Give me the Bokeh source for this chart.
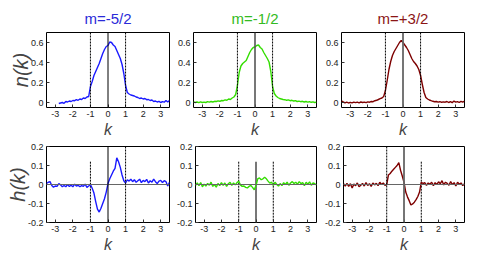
import numpy as np
from bokeh.plotting import figure
from bokeh.layouts import column, row
from bokeh.models import Span, FixedTicker, Range1d
from bokeh.embed import file_html
from bokeh.resources import INLINE

# ---------------- data ----------------
titles = ["m=-5/2", "m=-1/2", "m=+3/2"]
title_colors = ["#2a2ad8", "#33bb22", "#8b1515"]
line_colors = ["#1a1aff", "#33dd00", "#7d0000"]

k_full = np.round(np.arange(-35, 36) / 10, 1)    # -3.5 ... 3.5
k_blue_n = np.round(np.arange(-28, 36) / 10, 1)  # -2.8 ... 3.5

n_blue = [
    -0.01, -0.005, 0.0, -0.008, 0.01, 0.005, 0.015, 0.01, 0.02, 0.018,
    0.028, 0.022, 0.035, 0.03, 0.045, 0.04, 0.055, 0.06, 0.16, 0.21,
    0.27, 0.31, 0.35, 0.39, 0.44, 0.49, 0.53, 0.56, 0.57, 0.605,
    0.6, 0.575, 0.56, 0.52, 0.48, 0.44, 0.38, 0.29, 0.17, 0.1,
    0.085, 0.075, 0.07, 0.065, 0.055, 0.05, 0.04, 0.045, 0.035, 0.04,
    0.028, 0.03, 0.02, 0.025, 0.01, 0.015, 0.005, 0.012, 0.0, 0.008,
    0.003, 0.02, 0.005, 0.02,
]
n_green = [
    0.007, 0.0, 0.005, -0.002, 0.006, 0.0, 0.004, 0.0, 0.008, 0.003,
    0.01, 0.005, 0.012, 0.01, 0.016, 0.012, 0.02, 0.018, 0.026, 0.022,
    0.035, 0.03, 0.045, 0.055, 0.08, 0.17, 0.3, 0.365, 0.39, 0.405,
    0.42, 0.46, 0.5, 0.53, 0.55, 0.555, 0.57, 0.575, 0.55, 0.535,
    0.5, 0.47, 0.44, 0.405, 0.31, 0.16, 0.09, 0.065, 0.05, 0.04,
    0.035, 0.03, 0.028, 0.022, 0.026, 0.018, 0.022, 0.015, 0.018, 0.01,
    0.014, 0.008, 0.012, 0.005, 0.01, 0.004, 0.008, 0.002, 0.006, 0.0,
    0.004,
]
n_red = [
    0.017, 0.005, -0.003, 0.004, -0.005, 0.002, -0.004, 0.003, -0.002, 0.004,
    -0.003, 0.005, 0.0, 0.004, -0.002, 0.006, 0.003, 0.01, 0.008, 0.018,
    0.022, 0.03, 0.038, 0.045, 0.06, 0.12, 0.22, 0.33, 0.41, 0.47,
    0.51, 0.54, 0.57, 0.6, 0.62, 0.6, 0.575, 0.55, 0.52, 0.48,
    0.44, 0.41, 0.39, 0.365, 0.33, 0.27, 0.18, 0.1, 0.05, 0.035,
    0.025, 0.018, 0.012, 0.008, 0.01, 0.004, 0.008, 0.002, 0.006, 0.003,
    0.01, 0.0, 0.008, -0.002, 0.014, 0.003, 0.009, 0.0, 0.012, 0.004,
    0.013,
]
h_blue = [
    0.005, 0.012, 0.015, -0.005, -0.014, -0.008, -0.01, 0.005, -0.002, -0.012,
    -0.005, -0.012, 0.0, -0.01, -0.004, -0.012, 0.002, -0.008, -0.004, -0.012,
    -0.006, -0.01, 0.002, -0.015, -0.008, 0.0, -0.02, -0.045, -0.09, -0.13,
    -0.145, -0.125, -0.1, -0.075, -0.04, 0.005, 0.03, 0.05, 0.07, 0.085,
    0.14, 0.12, 0.09, 0.05, 0.02, 0.008, 0.025, 0.018, 0.028, 0.015,
    0.025, 0.012, 0.02, 0.028, 0.01, 0.022, 0.015, 0.027, 0.008, 0.02,
    0.012, 0.028, 0.015, 0.005, 0.018, 0.022, 0.01, 0.02, 0.015, -0.008,
    0.012,
]
h_green = [
    -0.005, 0.008, -0.006, 0.01, -0.012, 0.002, -0.008, 0.006, -0.004, 0.012,
    -0.01, 0.0, -0.014, 0.005, -0.006, 0.01, -0.004, 0.008, -0.01, 0.004,
    0.012, -0.005, 0.008, -0.002, 0.01, 0.017, -0.002, -0.01, -0.008, -0.015,
    -0.018, -0.01, -0.005, -0.015, -0.028, -0.005, 0.03, 0.035, 0.025, 0.03,
    0.038, 0.03, 0.018, 0.007, 0.012, -0.005, 0.012, 0.0, -0.008, 0.005,
    -0.006, 0.01, 0.0, 0.012, -0.004, 0.008, 0.015, 0.005, 0.012, 0.002,
    0.015, 0.005, 0.01, -0.006, 0.012, 0.002, 0.014, -0.004, 0.008, 0.004,
    -0.002,
]
h_red = [
    0.005, -0.008, 0.006, -0.01, 0.004, -0.018, 0.002, -0.006, 0.008, -0.012,
    -0.004, 0.006, -0.008, 0.01, -0.005, 0.004, -0.01, 0.008, -0.002, 0.006,
    -0.006, 0.012, 0.0, 0.008, -0.004, 0.0, 0.05, 0.058, 0.07, 0.08,
    0.09, 0.1, 0.115, 0.075, 0.045, 0.012, -0.04, -0.065, -0.085, -0.108,
    -0.102, -0.093, -0.08, -0.063, -0.04, 0.012, 0.005, 0.01, -0.004, 0.008,
    0.002, 0.012, -0.006, 0.01, 0.0, 0.014, 0.004, 0.02, -0.002, 0.012,
    0.006, -0.004, 0.015, 0.0, 0.01, -0.008, 0.012, 0.002, 0.008, -0.006,
    0.004,
]

x_ticks = [-3, -2, -1, 0, 1, 2, 3]
x_tick_labels = ["-3", "-2", "-1", "0", "1", "2", "3"]
n_ticks = [0, 0.2, 0.4, 0.6]
n_tick_labels = ["0", "0.2", "0.4", "0.6"]
h_ticks = [-0.2, -0.1, 0, 0.1, 0.2]
h_tick_labels = ["-0.2", "-0.1", "0", "0.1", "0.2"]
k_fermi = [-1.0, 1.0]
k_zero = 0.0
short_top = 0.12   # upper end of the shortened marker lines in h(k) panels

n_series = [(k_blue_n, n_blue), (k_full, n_green), (k_full, n_red)]
h_series = [(k_full, h_blue), (k_full, h_green), (k_full, h_red)]

zero_style = [("black", 1), ("#555555", 1.6), ("#666666", 1.8)]
h_short = [(False, [True, False]), (True, [True, True]), (False, [False, True])]

FONT = "Liberation Sans"
widths = [173, 148, 148]
left_b = [46, 20, 20]
right_b = [4, 5, 5]


def style(p, col, yticks, ylabels, ylabel):
    p.xgrid.visible = False
    p.ygrid.visible = False
    p.outline_line_color = "black"
    p.outline_line_width = 1
    p.outline_line_alpha = 1
    for ax in (p.xaxis, p.yaxis):
        ax.axis_line_color = None
        ax.major_tick_in = 3
        ax.major_tick_out = 0
        ax.minor_tick_line_color = None
        ax.major_tick_line_color = "#333333"
        ax.major_label_text_font = FONT
        ax.major_label_text_font_size = "9px"
        ax.major_label_text_color = "#222222"
        ax.major_label_standoff = 3
    p.xaxis.ticker = FixedTicker(ticks=x_ticks)
    p.xaxis.major_label_overrides = dict(zip(x_ticks, x_tick_labels))
    p.yaxis.ticker = FixedTicker(ticks=yticks)
    p.yaxis.major_label_overrides = dict(zip(yticks, ylabels))
    p.xaxis.axis_label = "k"
    p.xaxis.axis_label_text_font = FONT
    p.xaxis.axis_label_text_font_style = "italic"
    p.xaxis.axis_label_text_font_size = "16px"
    p.xaxis.axis_label_standoff = 1
    if col == 0:
        p.yaxis.axis_label = ylabel
        p.yaxis.axis_label_text_font = FONT
        p.yaxis.axis_label_text_font_style = "italic"
        p.yaxis.axis_label_text_font_size = "20px"
        p.yaxis.axis_label_standoff = -4


top_row = []
for c in range(3):
    p = figure(width=widths[c], height=141, output_backend="svg", toolbar_location=None,
               x_range=Range1d(-3.5, 3.5), y_range=Range1d(-0.05, 0.7),
               min_border_left=left_b[c], min_border_right=right_b[c],
               min_border_top=32, min_border_bottom=34)
    p.title.text = titles[c]
    p.title.align = "center"
    p.title.text_color = title_colors[c]
    p.title.text_font = FONT
    p.title.text_font_style = "normal"
    p.title.text_font_size = "15px"
    p.title.standoff = 11
    style(p, c, n_ticks, n_tick_labels, "n(k)")
    zc, zw = zero_style[c]
    p.add_layout(Span(location=k_zero, dimension="height", line_color=zc, line_width=zw))
    for kf in k_fermi:
        p.add_layout(Span(location=kf, dimension="height", line_color="black",
                          line_width=1, line_dash="2 1"))
    kx, ny = n_series[c]
    p.line(kx, ny, line_color=line_colors[c], line_width=1.4)
    top_row.append(p)

bot_row = []
for c in range(3):
    p = figure(width=widths[c], height=115, output_backend="svg", toolbar_location=None,
               x_range=Range1d(-3.5, 3.5), y_range=Range1d(-0.2, 0.2),
               min_border_left=left_b[c], min_border_right=right_b[c],
               min_border_top=5, min_border_bottom=34)
    style(p, c, h_ticks, h_tick_labels, "h(k)")
    p.add_layout(Span(location=0, dimension="width", line_color="#666666", line_width=1))
    zc, zw = zero_style[c]
    zshort, fshort = h_short[c]
    if zshort:
        p.segment(x0=[k_zero], y0=[short_top], x1=[k_zero], y1=[-0.2],
                  line_color=zc, line_width=zw)
    else:
        p.add_layout(Span(location=k_zero, dimension="height", line_color=zc, line_width=zw))
    for kf, sh in zip(k_fermi, fshort):
        if sh:
            p.segment(x0=[kf], y0=[short_top], x1=[kf], y1=[-0.2],
                      line_color="black", line_width=1, line_dash="2 1")
        else:
            p.add_layout(Span(location=kf, dimension="height", line_color="black",
                              line_width=1, line_dash="2 1"))
    kx, hy = h_series[c]
    p.line(kx, hy, line_color=line_colors[c], line_width=1.4)
    bot_row.append(p)

layout = column(row(*top_row, spacing=0), row(*bot_row, spacing=0), spacing=0)
open("out.html", "w").write(file_html(layout, INLINE))
